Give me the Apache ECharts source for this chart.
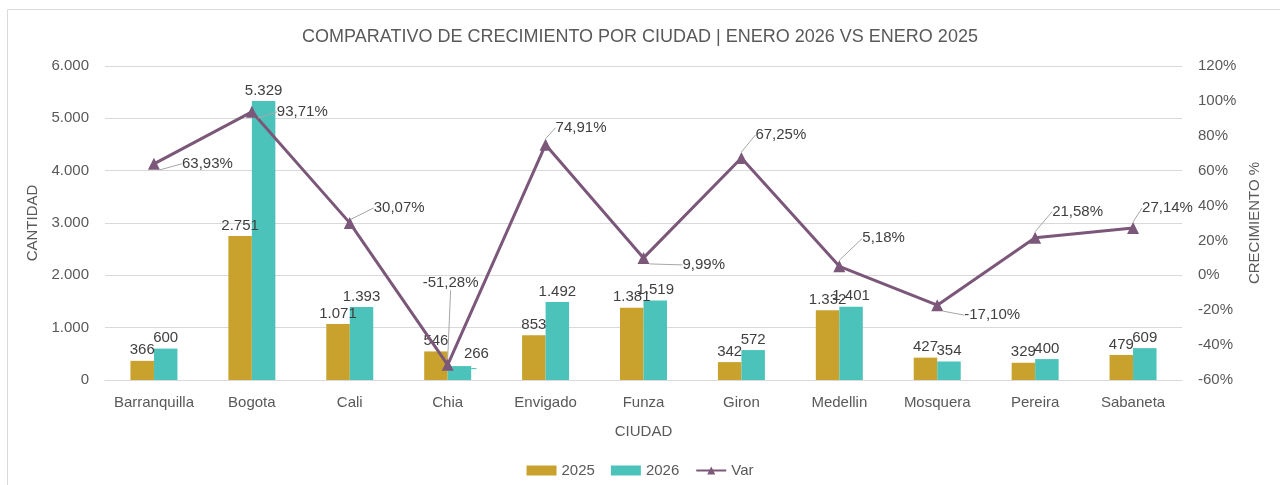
<!DOCTYPE html>
<html>
<head>
<meta charset="utf-8">
<script src="https://cdn.jsdelivr.net/npm/echarts@6/dist/echarts.min.js"></script>
<style>
  html, body { margin: 0; padding: 0; background: #fff; }
  #chart { width: 1280px; height: 485px; }
</style>
</head>
<body>
<div id="chart"></div>
<script>
const cities = ['Barranquilla', 'Bogota', 'Cali', 'Chia', 'Envigado', 'Funza', 'Giron', 'Medellin', 'Mosquera', 'Pereira', 'Sabaneta']
const values2025 = [366, 2751, 1071, 546, 853, 1381, 342, 1332, 427, 329, 479]
const values2026 = [600, 5329, 1393, 266, 1492, 1519, 572, 1401, 354, 400, 609]
const variation = [63.93, 93.71, 30.07, -51.28, 74.91, 9.99, 67.25, 5.18, -17.10, 21.58, 27.14]

// where each growth label sits, moved from its default right-hand spot
const varLabelShift = [
  [17, 0], [14, 0], [13, -15], [-36, -82], [-1, -17], [28, 7],
  [3, -23], [12, -28], [16, 10], [6, -26], [-2, -20],
]

const FONT = "'Liberation Sans', Arial, sans-serif"

function fmtThousands(v) {
  return String(v).replace(/\B(?=(\d{3})+(?!\d))/g, '.')
}

const chart = echarts.init(document.getElementById('chart'))

const barLabel = {
  show: true,
  position: 'top',
  distance: 3,
  color: '#404040',
  fontSize: 15,
  fontFamily: FONT,
  formatter: (p) => fmtThousands(p.value),
}

// the Chia 2026 label is pushed aside (it sits under the line marker)
const data2026 = values2026.map((v, i) =>
  i === 3 ? { value: v, label: { offset: [17, -2] }, labelLine: { show: true } } : v
)

chart.setOption({
  textStyle: { fontFamily: FONT },
  graphic: [
    {
      type: 'rect',
      shape: { x: 7.5, y: 9.5, width: 1290, height: 500 },
      style: { fill: 'none', stroke: '#d9d9d9', lineWidth: 1 },
      silent: true,
    },
  ],
  title: {
    text: 'COMPARATIVO DE CRECIMIENTO POR CIUDAD | ENERO 2026 VS ENERO 2025',
    left: 'center',
    top: 23,
    textStyle: { color: '#595959', fontSize: 18, fontWeight: 'normal', fontFamily: FONT },
  },
  grid: { left: 105, right: 98, top: 66, bottom: 105 },
  legend: {
    bottom: 2,
    left: 'center',
    itemGap: 16,
    textStyle: { color: '#595959', fontSize: 15, fontFamily: FONT },
    data: [
      { name: '2025', icon: 'rect' },
      { name: '2026', icon: 'rect' },
      { name: 'Var' },
    ],
    itemWidth: 30,
    itemHeight: 10,
  },
  xAxis: {
    type: 'category',
    data: cities,
    name: 'CIUDAD',
    nameLocation: 'middle',
    nameGap: 44,
    nameTextStyle: { color: '#595959', fontSize: 15, fontFamily: FONT },
    axisLine: { lineStyle: { color: '#d9d9d9', width: 1 } },
    axisTick: { show: false },
    axisLabel: { color: '#595959', fontSize: 15, margin: 15, interval: 0, fontFamily: FONT },
  },
  yAxis: [
    {
      type: 'value',
      min: 0,
      max: 6000,
      interval: 1000,
      name: 'CANTIDAD',
      nameLocation: 'middle',
      nameGap: 62,
      nameTextStyle: { color: '#595959', fontSize: 15, fontFamily: FONT },
      axisLabel: { color: '#595959', fontSize: 15, margin: 16, fontFamily: FONT, formatter: fmtThousands },
      splitLine: { lineStyle: { color: '#d9d9d9', width: 1 } },
      axisLine: { show: false },
      axisTick: { show: false },
    },
    {
      type: 'value',
      min: -60,
      max: 120,
      interval: 20,
      name: 'CRECIMIENTO %',
      nameLocation: 'middle',
      nameGap: 62,
      nameRotate: 90,
      nameTextStyle: { color: '#595959', fontSize: 15, fontFamily: FONT },
      axisLabel: { color: '#595959', fontSize: 15, margin: 16, fontFamily: FONT, formatter: '{value}%' },
      splitLine: { show: false },
      axisLine: { show: false },
      axisTick: { show: false },
    },
  ],
  series: [
    {
      name: '2025',
      type: 'bar',
      data: values2025,
      barGap: '0%',
      barCategoryGap: '52%',
      itemStyle: { color: '#C9A22D' },
      label: barLabel,
    },
    {
      name: '2026',
      type: 'bar',
      data: data2026,
      itemStyle: { color: '#4BC3BB' },
      label: barLabel,
    },
    {
      name: 'Var',
      type: 'line',
      yAxisIndex: 1,
      data: variation,
      symbol: 'triangle',
      symbolSize: 12,
      lineStyle: { color: '#7B5779', width: 3 },
      itemStyle: { color: '#7B5779' },
      z: 5,
      label: {
        show: true,
        position: 'right',
        distance: 5,
        color: '#404040',
        fontSize: 15,
        fontFamily: FONT,
        formatter: (p) => p.value.toFixed(2).replace('.', ',') + '%',
      },
      labelLine: { show: true, lineStyle: { color: '#a6a6a6', width: 1 } },
      labelLayout: (p) => ({ dx: varLabelShift[p.dataIndex][0], dy: varLabelShift[p.dataIndex][1] }),
    },
  ],
})
</script>
</body>
</html>
